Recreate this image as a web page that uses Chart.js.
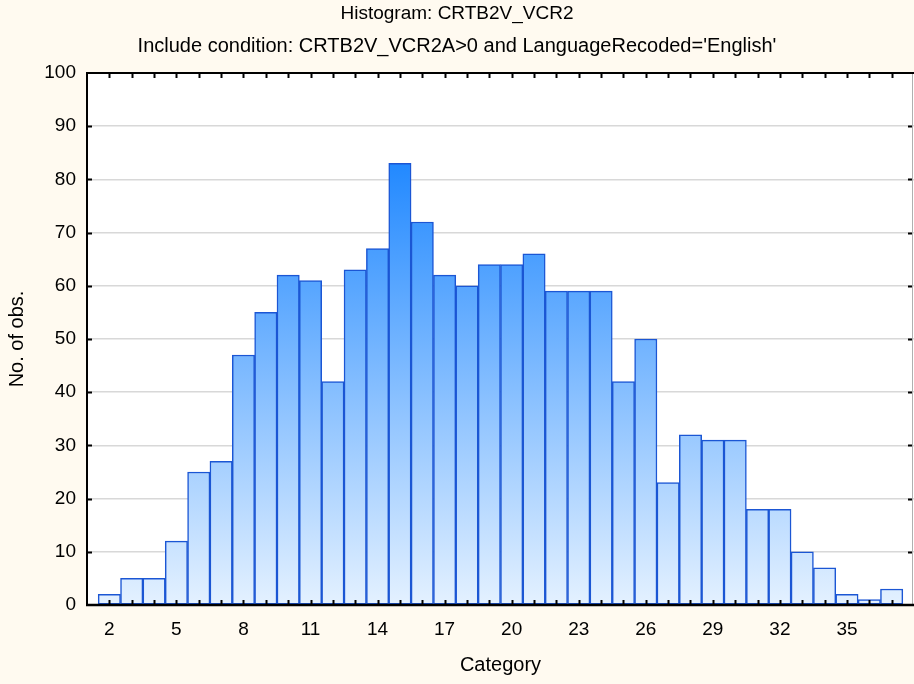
<!DOCTYPE html>
<html><head><meta charset="utf-8">
<script src="https://cdn.jsdelivr.net/npm/chart.js@4.4.1/dist/chart.umd.min.js"></script>
<style>html,body{margin:0;padding:0;background:#fffaf0;}canvas{display:block;}</style>
</head><body>
<canvas id="c" width="914" height="684"></canvas>
<script>
// Histogram bins (padding bins 1 and 38 are empty)
const categories = ['1','2','3','4','5','6','7','8','9','10','11','12','13','14','15','16','17','18','19','20','21','22','23','24','25','26','27','28','29','30','31','32','33','34','35','36','37','38'];
const counts = [null,2,5,5,12,25,27,47,55,62,61,42,63,67,83,72,62,60,64,64,66,59,59,59,42,50,23,32,31,31,18,18,10,7,2,1,3,null];
const xTickLabels = ['2','5','8','11','14','17','20','23','26','29','32','35'];
const yMin = 0, yMax = 100, yStep = 10;
const titleText = 'Histogram: CRTB2V_VCR2';
const subtitleText = "Include condition: CRTB2V_VCR2A>0 and LanguageRecoded='English'";

const frame = {
  id: 'frame',
  beforeDraw(chart) {
    const {ctx, chartArea: a} = chart;
    ctx.save();
    ctx.fillStyle = '#fffaf0';
    ctx.fillRect(0, 0, chart.width, chart.height);
    ctx.fillStyle = '#ffffff';
    ctx.fillRect(a.left, a.top, a.right - a.left, a.bottom - a.top);
    ctx.restore();
  },
  afterDatasetsDraw(chart) {
    const {ctx, chartArea: a, scales: {x, y}} = chart;
    ctx.save();
    ctx.strokeStyle = '#000';
    ctx.lineWidth = 2;
    ctx.beginPath();
    x.ticks.forEach((t, i) => {
      if (i === 0 || i === x.ticks.length - 1) return;
      const px = Math.round(x.getPixelForTick(i)) + 0.5;
      ctx.moveTo(px, a.bottom); ctx.lineTo(px, a.bottom - 5);
      ctx.moveTo(px, a.top); ctx.lineTo(px, a.top + 5);
    });
    y.ticks.forEach((t, i) => {
      if (t.value === yMin || t.value === yMax) return;
      const py = Math.round(y.getPixelForValue(t.value)) + 0.5;
      ctx.moveTo(a.left, py); ctx.lineTo(a.left + 5, py);
      ctx.moveTo(a.right - 1, py); ctx.lineTo(a.right - 6, py);
    });
    ctx.stroke();
    ctx.strokeStyle = '#b0b0b0';
    ctx.lineWidth = 1;
    ctx.beginPath();
    ctx.moveTo(a.right - 1.5, a.top); ctx.lineTo(a.right - 1.5, a.bottom);
    ctx.stroke();
    ctx.strokeStyle = '#000';
    ctx.lineWidth = 2;
    ctx.beginPath();
    ctx.moveTo(a.left, a.bottom); ctx.lineTo(a.left, a.top); ctx.lineTo(a.right, a.top);
    ctx.stroke();
    ctx.lineWidth = 2.5;
    ctx.beginPath();
    ctx.moveTo(a.left - 1, a.bottom); ctx.lineTo(a.right, a.bottom);
    ctx.stroke();
    ctx.restore();
  }
};

function barFill(context) {
  const chart = context.chart;
  const a = chart.chartArea;
  if (!a) return '#5aa8ff';
  const y = chart.scales.y;
  const maxVal = Math.max(...counts.filter(v => v !== null));
  const g = chart.ctx.createLinearGradient(0, y.getPixelForValue(maxVal), 0, y.getPixelForValue(0));
  g.addColorStop(0, '#2289ff');
  g.addColorStop(1, '#e4f1ff');
  return g;
}

const sans = "'Liberation Sans', Arial, sans-serif";

new Chart(document.getElementById('c'), {
  type: 'bar',
  data: {
    labels: categories,
    datasets: [{
      data: counts,
      backgroundColor: barFill,
      borderColor: '#1b56d4',
      borderWidth: 1.5,
      borderSkipped: false,
      barPercentage: 1,
      categoryPercentage: 1
    }]
  },
  plugins: [frame],
  options: {
    responsive: false,
    devicePixelRatio: 1,
    animation: false,
    layout: {padding: 0},
    plugins: {
      legend: {display: false},
      tooltip: {enabled: false},
      title: {
        display: true, text: titleText, color: '#000',
        font: {family: sans, size: 19, weight: 'normal', lineHeight: 1.2},
        padding: {top: 2.6, bottom: 8.6}
      },
      subtitle: {
        display: true, text: subtitleText, color: '#000',
        font: {family: sans, size: 20, weight: 'normal', lineHeight: 1.2},
        padding: {top: 0, bottom: 15}
      }
    },
    scales: {
      x: {
        type: 'category',
        offset: false,
        afterFit(s) { s.height = 79; s.paddingLeft = 0; s.paddingRight = 0; },
        grid: {display: false},
        border: {display: false},
        ticks: {
          autoSkip: false, maxRotation: 0, minRotation: 0, padding: 5, color: '#000',
          font: {family: sans, size: 19},
          callback(v, i) { const l = categories[i]; return xTickLabels.includes(l) ? l : ''; }
        },
        title: {
          display: true, text: 'Category', color: '#000',
          font: {family: sans, size: 20},
          padding: {top: 0, bottom: 7}
        }
      },
      y: {
        min: yMin, max: yMax,
        afterFit(s) { s.width = 87; s.paddingTop = 0; s.paddingBottom = 0; },
        grid: {color: '#d8d8d8', lineWidth: 1.5, drawTicks: false},
        border: {display: false},
        ticks: {
          stepSize: yStep, padding: 11, color: '#000',
          font: {family: sans, size: 19}
        },
        title: {
          display: true, text: 'No. of obs.', color: '#000',
          font: {family: sans, size: 20},
          padding: {top: 5, bottom: 0}
        }
      }
    }
  }
});
</script>
</body></html>
